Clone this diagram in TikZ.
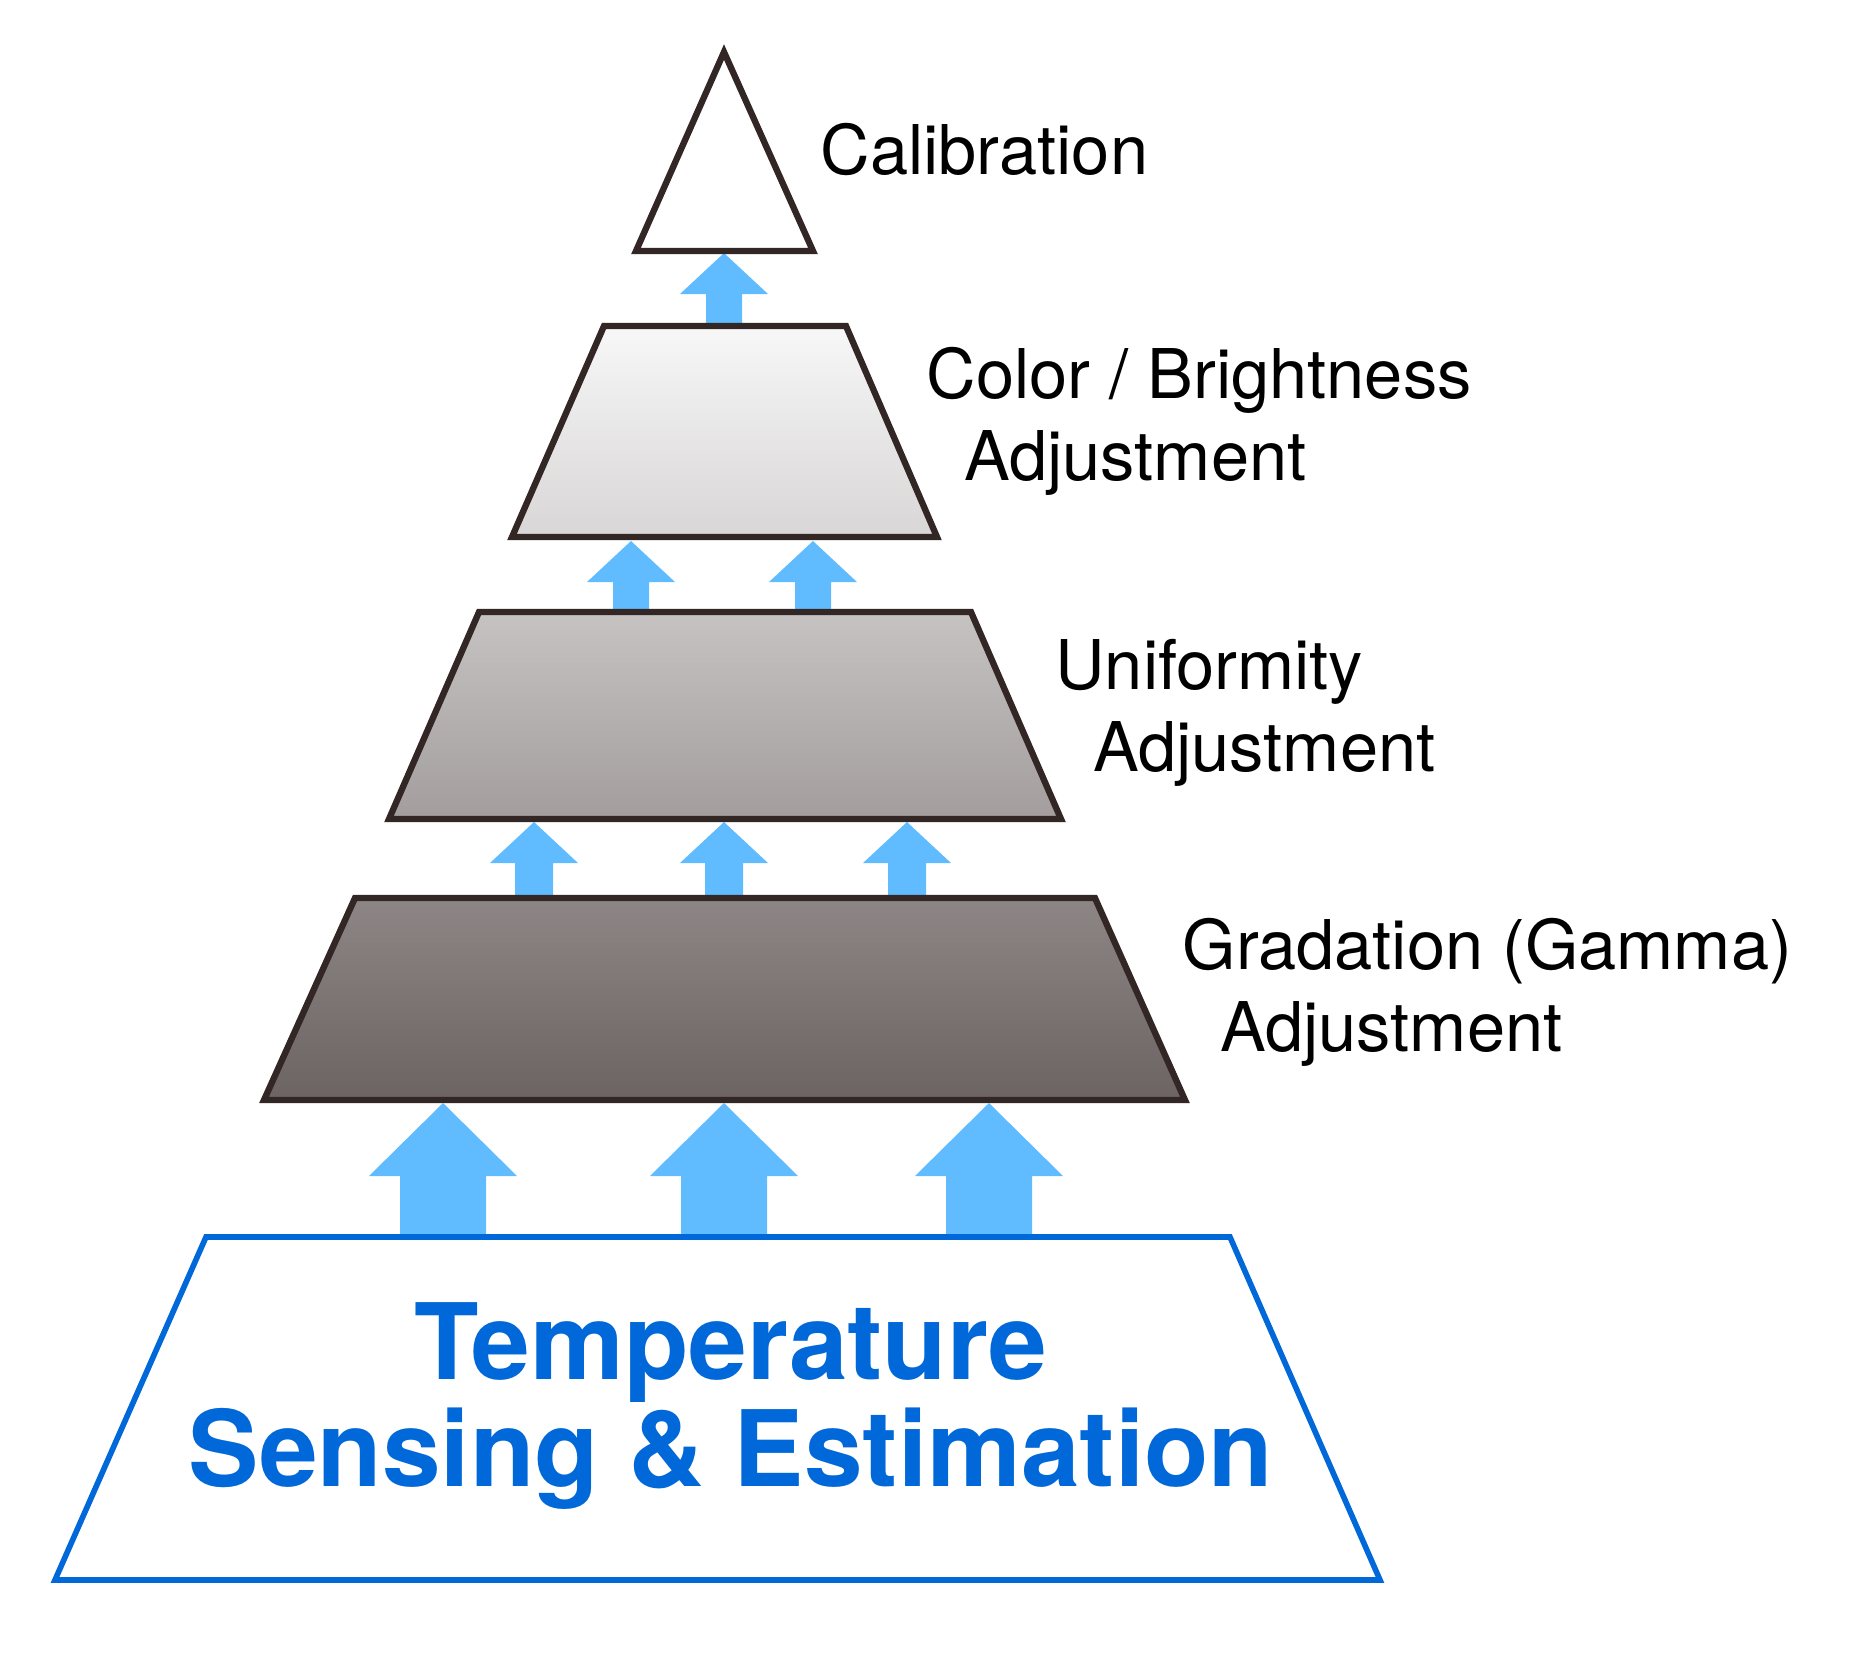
\documentclass[tikz,border=0pt]{standalone}
\usepackage{fontspec}
\setmainfont{TeX Gyre Heros}
\definecolor{edgebrown}{HTML}{332726}
\definecolor{liftblue}{HTML}{60BCFE}
\definecolor{senseblue}{HTML}{0068D8}
% block arrow: centre x, tip y, head base y, foot y, head half width, shaft half width
\newcommand{\liftarrow}[6]{%
  \fill[liftblue] (#1,#2) -- (#1+#5,#3) -- (#1+#6,#3) -- (#1+#6,#4)
    -- (#1-#6,#4) -- (#1-#6,#3) -- (#1-#5,#3) -- cycle;}

\begin{document}
\begin{tikzpicture}[x=0.01cm, y=-0.01cm]
        \tikzstyle{level} = [draw=edgebrown, line width=1.8pt]
        \tikzstyle{sensing} = [draw=senseblue, line width=1.6pt, fill=white]
        \tikzstyle{stagelabel} = [anchor=base west, align=left, inner sep=0pt, font=\fontsize{19.5}{23.2}\selectfont]

        \useasboundingbox (0,0) rectangle (1859,1653);

        % arrows between the levels
        \liftarrow{724}{253}{294}{326}{44}{18}
        \liftarrow{631}{541}{582}{612}{44}{18}
        \liftarrow{813}{541}{582}{612}{44}{18}
        \liftarrow{534}{822}{863}{898}{44}{19}
        \liftarrow{724}{822}{863}{898}{44}{19}
        \liftarrow{907}{822}{863}{898}{44}{19}
        \liftarrow{443}{1103}{1176}{1237}{74}{43}
        \liftarrow{724}{1103}{1176}{1237}{74}{43}
        \liftarrow{989}{1103}{1176}{1237}{74}{43}

        % pyramid
        \draw [level, fill=white] (636,251) -- (724,52) -- (813,251) -- cycle;
        \draw [level, top color=black!3, bottom color=edgebrown!19] (512,537) -- (604,326) -- (846,326) -- (937,537) -- cycle;
        \draw [level, top color=edgebrown!28, bottom color=edgebrown!45] (389,819) -- (479,612) -- (971,612) -- (1061,819) -- cycle;
        \draw [level, top color=edgebrown!56, bottom color=edgebrown!72] (264,1100) -- (355,898) -- (1095,898) -- (1185,1100) -- cycle;
        \draw [sensing] (55,1580) -- (206,1237) -- (1230,1237) -- (1380,1580) -- cycle;

        \node (calibration) [stagelabel] at (820,174) {Calibration};
        \node (colorbright) [stagelabel] at (926,480) {Color / Brightness\\\hspace*{0.55em}Adjustment};
        \node (uniformity) [stagelabel] at (1055,771) {Uniformity\\\hspace*{0.55em}Adjustment};
        \node (gradation) [stagelabel] at (1182,1051) {Gradation (Gamma)\\\hspace*{0.55em}Adjustment};
        \node (sensing) [anchor=base, align=center, inner sep=0pt, text=senseblue, font=\fontsize{30}{30.2}\selectfont\bfseries] at (731,1486) {Temperature\\Sensing \& Estimation};
    \end{tikzpicture}
\end{document}
